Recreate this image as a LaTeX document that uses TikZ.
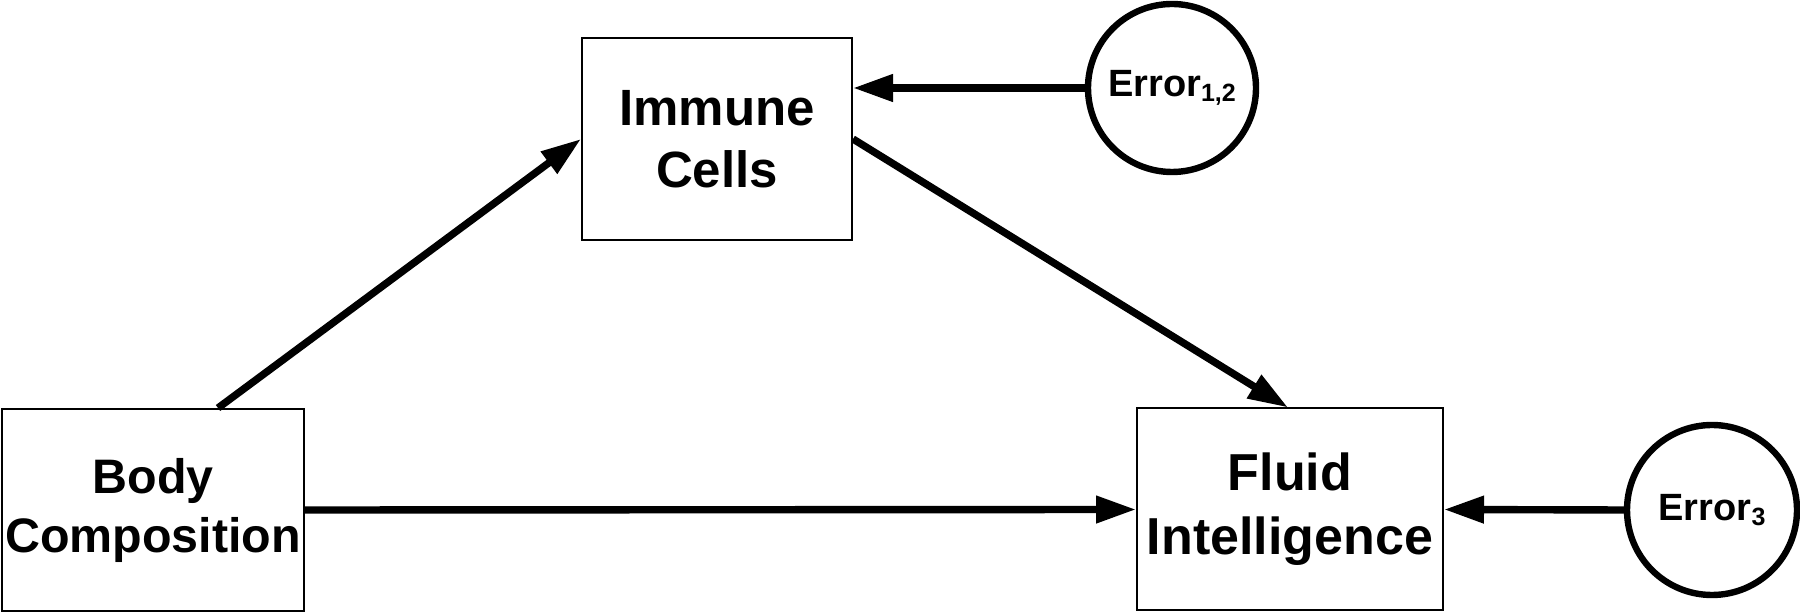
\documentclass[tikz,border=0pt]{standalone}
\usepackage{fontspec}
\setmainfont{Liberation Sans}
\usetikzlibrary{arrows.meta}
\tikzset{
  box/.style={draw=black, line width=1pt, rectangle, minimum height=101pt, inner sep=0pt, align=center, font=\bfseries\fontsize{25.5}{31}\selectfont},
  errnode/.style={draw=black, line width=3.2pt, circle, minimum size=84pt, inner sep=0pt, font=\bfseries\fontsize{19}{19}\selectfont},
  conn/.style={line width=3.7pt, -{Triangle[length=20pt, width=13pt]}},
}
\newcommand{\errsub}[1]{\raisebox{-2.5pt}{\fontsize{12.5}{12.5}\selectfont #1}}
\begin{document}
\begin{tikzpicture}[x=0.5pt, y=-0.5pt]
\useasboundingbox (0,0) rectangle (1800,613);
\node[box, minimum width=135pt] (imm) at (717,139) {Immune\\Cells};
\node[box, minimum width=151pt, font=\bfseries\fontsize{24.2}{29.5}\selectfont] (body) at (153,510) {Body\\Composition};
\node[box, minimum width=153pt, font=\bfseries\fontsize{26}{32}\selectfont] (fluid) at (1290,509.5) {Fluid\\Intelligence};
\node[errnode] (e12) at (1172,88) {Error\errsub{1,2}};
\node[errnode, minimum size=85pt] (e3) at (1712,510) {Error\errsub{3}};
\draw[conn] (e12.west) -- (imm.east |- e12.west);
\draw[conn] ([xshift=32.5pt]body.north) -- (imm.west);
\draw[conn] (imm.east) -- ([xshift=-1pt]fluid.north);
\draw[conn] (body.east) -- (fluid.west);
\draw[conn] (e3.west) -- (fluid.east);
\end{tikzpicture}
\end{document}
